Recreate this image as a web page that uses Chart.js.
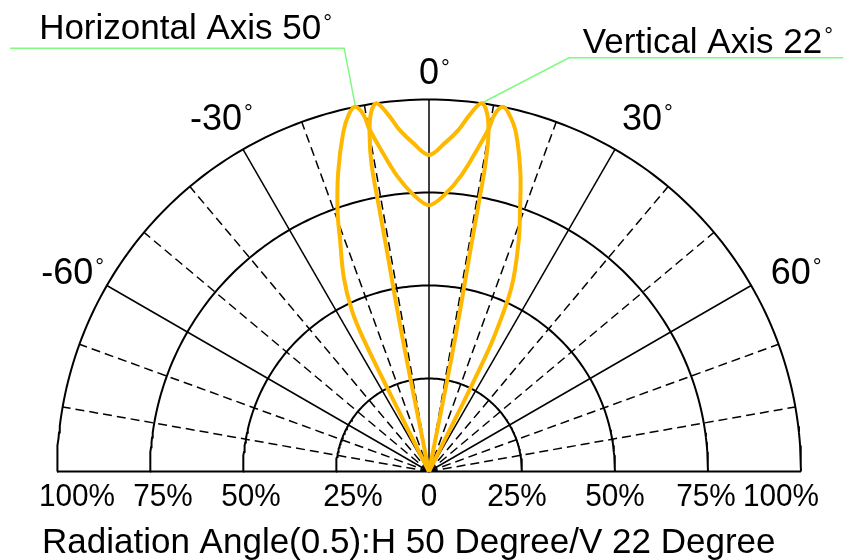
<!DOCTYPE html>
<html lang="en">
<head>
  <meta charset="UTF-8">
  <title>Radiation Angle</title>
  <script src="https://cdn.jsdelivr.net/npm/chart.js"></script>
  <style>
    html, body { margin: 0; padding: 0; background: #fff; }
    #wrap { width: 843px; height: 560px; }
  </style>
</head>
<body>
  <div id="wrap"><canvas id="polar" width="843" height="560"></canvas></div>

  <script>
    // Horizontal axis curve: angle (deg, 0 = straight up) and relative intensity
    const hAngles = [-26.5, -26.6, -26.3, -25.6, -23.7, -21.0, -19.4, -16.9, -14.2, -12.6, -11.4, -10.4, -9.9, -8.6, -6.2, -3.2, 0,
                     3.2, 6.2, 8.6, 9.9, 10.4, 11.4, 12.6, 14.4, 17.0, 19.2, 21.2, 24.1, 25.8, 26.3, 26.5, 26.5];
    const hValues = [0, 0.20, 0.40, 0.48, 0.57, 0.667, 0.74, 0.84, 0.94, 0.985, 1.0, 0.975, 0.936, 0.879, 0.80, 0.745, 0.716,
                     0.745, 0.80, 0.879, 0.936, 0.975, 1.0, 0.985, 0.94, 0.84, 0.744, 0.667, 0.544, 0.40, 0.30, 0.20, 0];

    // Vertical axis curve
    const vAngles = [-11.3, -11.3, -11.3, -11.1, -10.8, -10.7, -10.6, -10.0, -9.2, -8.1, -6.5, -4.9, -2.7, 0,
                     2.7, 4.9, 6.5, 8.1, 9.2, 10.0, 10.4, 10.5, 10.6, 10.9, 11.2, 11.3, 11.3];
    const vValues = [0, 0.15, 0.30, 0.45, 0.60, 0.74, 0.84, 0.92, 0.976, 1.0, 0.965, 0.921, 0.883, 0.851,
                     0.883, 0.921, 0.965, 1.0, 0.976, 0.92, 0.84, 0.74, 0.60, 0.45, 0.30, 0.15, 0];

    const ringLevels = [0.25, 0.5, 0.75, 1];
    const spokeAngles = [-80, -70, -60, -50, -40, -30, -20, -10, 0, 10, 20, 30, 40, 50, 60, 70, 80];
    const majorAngles = [-60, -30, 0, 30, 60];
    const angleLabels = ['-60°', '-30°', '0°', '30°', '60°'];
    const radialTicks = [-1, -0.75, -0.5, -0.25, 0, 0.25, 0.5, 0.75, 1];
    const radialTickLabels = ['100%', '75%', '50%', '25%', '0', '25%', '50%', '75%', '100%'];
    const seriesNames = ['Horizontal Axis 50°', 'Vertical Axis 22°'];
    const caption = 'Radiation Angle(0.5):H 50 Degree/V 22 Degree';

    // layout in pixels -> value range of the hidden x / y scales (1.0 = 372px)
    const R_PX = 372, CX = 429, CY = 471.5, W = 843, H = 560;

    const ORANGE = 'rgb(255,184,0)';
    const GREEN = 'rgb(128,250,128)';
    const FONT = '"Liberation Sans", Arial, sans-serif';

    function toXY(angle, r) {
      const a = angle * Math.PI / 180;
      return { x: r * Math.sin(a), y: r * Math.cos(a) };
    }

    const datasets = [];

    // the two measured curves
    datasets.push({
      label: seriesNames[0],
      data: hAngles.map((a, i) => toXY(a, hValues[i])),
      borderColor: ORANGE, borderWidth: 4, tension: 0.35, order: 0
    });
    datasets.push({
      label: seriesNames[1],
      data: vAngles.map((a, i) => toXY(a, vValues[i])),
      borderColor: ORANGE, borderWidth: 4, tension: 0.35, order: 0
    });

    // leader lines to the peaks
    const hPeak = hValues.indexOf(Math.max(...hValues));
    const vPeak = vValues.lastIndexOf(Math.max(...vValues));
    datasets.push({
      label: 'hLeader',
      data: [{ x: -1.126, y: 1.138 }, { x: -0.228, y: 1.138 }, toXY(hAngles[hPeak], hValues[hPeak])],
      borderColor: GREEN, borderWidth: 1.5, tension: 0, order: 1
    });
    datasets.push({
      label: 'vLeader',
      data: [{ x: 1.12, y: 1.112 }, { x: 0.376, y: 1.112 }, toXY(vAngles[vPeak], vValues[vPeak])],
      borderColor: GREEN, borderWidth: 1.5, tension: 0, order: 1
    });

    // rings
    ringLevels.forEach(r => {
      const pts = [];
      for (let a = -90; a <= 90; a++) pts.push(toXY(a, r));
      datasets.push({ label: 'ring', data: pts, borderColor: '#000', borderWidth: 2, tension: 0, order: 2 });
    });

    // spokes
    spokeAngles.forEach(a => {
      const major = majorAngles.includes(a);
      datasets.push({
        label: 'spoke',
        data: [{ x: 0, y: 0 }, toXY(a, 1)],
        borderColor: '#000', borderWidth: 1.5,
        borderDash: major ? [] : [9, 5], tension: 0, order: 2
      });
    });

    // base line
    datasets.push({
      label: 'base',
      data: [{ x: -1, y: 0 }, { x: 1, y: 0 }],
      borderColor: '#000', borderWidth: 2, tension: 0, order: 2
    });

    datasets.forEach(d => {
      d.showLine = true;
      d.pointRadius = 0;
      d.pointHoverRadius = 0;
      d.fill = false;
      d.clip = false;
    });

    // text with a small raised degree sign, like the original drawing
    function degText(ctx, text, x, y, size, align) {
      const hasDeg = text.endsWith('°');
      const main = hasDeg ? text.slice(0, -1) : text;
      ctx.font = size + 'px ' + FONT;
      const w = ctx.measureText(main).width;
      let left = x;
      if (align === 'center') left = x - w / 2;
      ctx.textAlign = 'left';
      ctx.textBaseline = 'alphabetic';
      ctx.fillText(main, left, y);
      if (hasDeg) {
        const top = y - size * 0.716;
        ctx.font = Math.round(size * 0.62) + 'px ' + FONT;
        ctx.fillText('°', left + w + 2, top + size * 0.62 * 0.71);
      }
    }

    const textPlugin = {
      id: 'polarText',
      afterDatasetsDraw(chart) {
        const { ctx } = chart;
        const xs = chart.scales.x, ys = chart.scales.y;
        const px = v => xs.getPixelForValue(v);
        const py = v => ys.getPixelForValue(v);
        ctx.save();
        ctx.fillStyle = '#000';

        // angle labels, digits centred just outside the outer ring
        majorAngles.forEach((a, i) => {
          const r = a === 0 ? 1.075 : 1.112;
          const p = toXY(a + Math.sign(a), r);
          degText(ctx, angleLabels[i], px(p.x), py(p.y) + 36 * 0.358, 36, 'center');
        });

        // percent labels under the base line
        ctx.save();
        ctx.font = '32px ' + FONT;
        ctx.textAlign = 'center';
        ctx.textBaseline = 'alphabetic';
        const nudge = [20, 13, 8, 17, 0, -5, 0, -2, -20];
        radialTicks.forEach((v, i) => {
          const x = px(v) + nudge[i];
          ctx.setTransform(0.93, 0, 0, 1, x, py(0) + 34);
          ctx.fillText(radialTickLabels[i], 0, 0);
        });
        ctx.restore();

        // series names next to the leader lines
        degText(ctx, seriesNames[0], px(-1.126) + 29, py(1.138) - 9, 35, 'left');
        degText(ctx, seriesNames[1], px(0.376) + 14, py(1.112) - 5, 35, 'left');

        // caption
        ctx.font = '35px ' + FONT;
        ctx.textAlign = 'left';
        ctx.fillText(caption, 42, py(0) + 81);
        ctx.restore();
      }
    };

    const ctx = document.getElementById('polar').getContext('2d');
    new Chart(ctx, {
      type: 'scatter',
      data: { datasets: datasets },
      options: {
        responsive: false,
        animation: false,
        devicePixelRatio: 1,
        layout: { padding: 0 },
        plugins: { legend: { display: false }, tooltip: { enabled: false } },
        scales: {
          x: { type: 'linear', display: false, min: -CX / R_PX, max: (W - CX) / R_PX },
          y: { type: 'linear', display: false, min: -(H - CY) / R_PX, max: CY / R_PX }
        }
      },
      plugins: [textPlugin]
    });
  </script>
</body>
</html>
